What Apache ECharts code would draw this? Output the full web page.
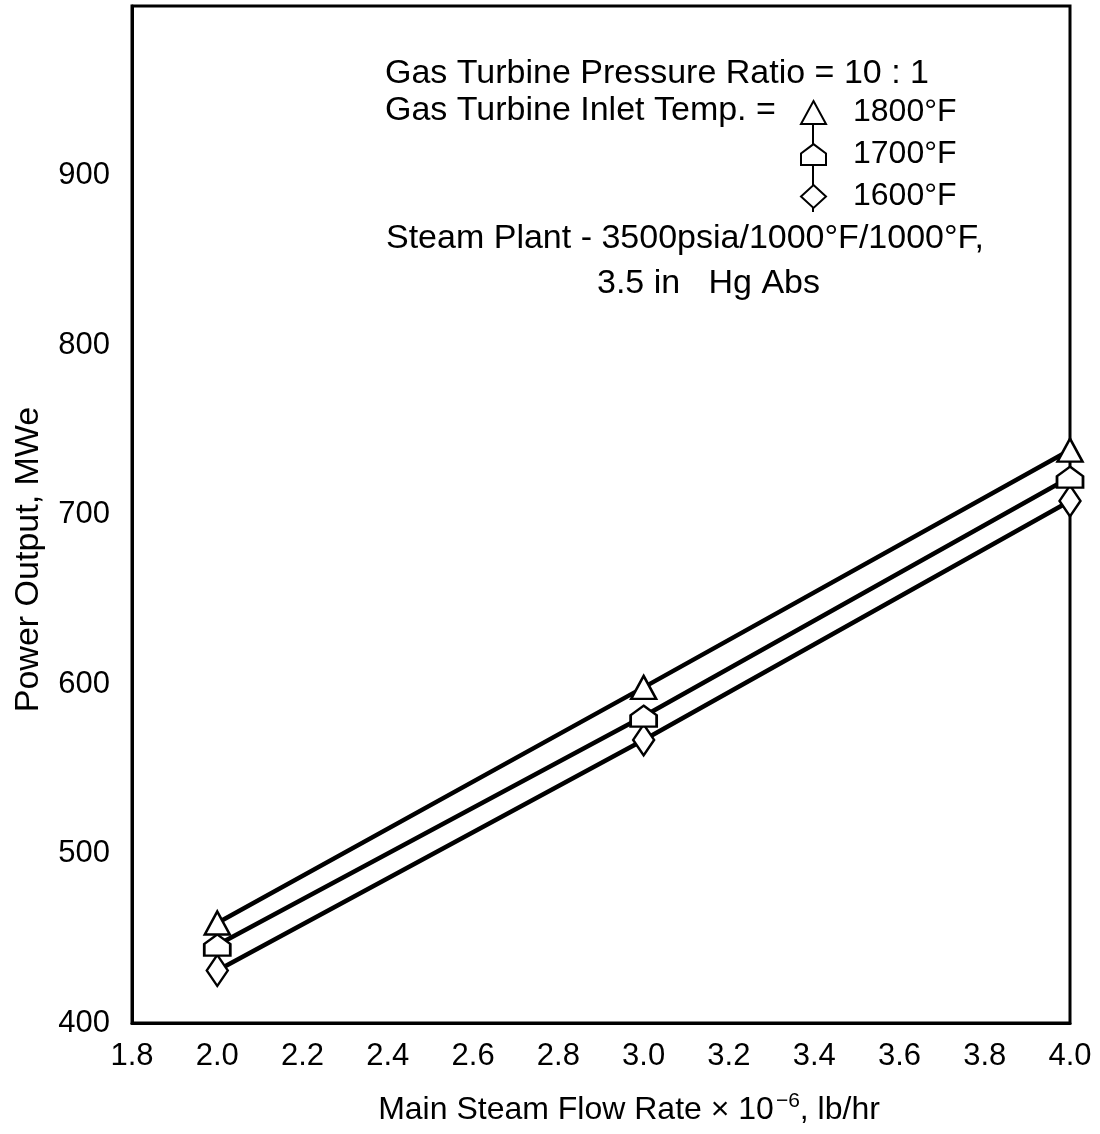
<!DOCTYPE html>
<html>
<head>
<meta charset="utf-8">
<script src="https://cdn.jsdelivr.net/npm/echarts@6/dist/echarts.min.js"></script>
<style>
  html, body { margin: 0; padding: 0; background: #fff; }
  #chart { width: 1100px; height: 1134px; }
</style>
</head>
<body>
<div id="chart"></div>
<script>
// Main steam flow rate (x 10^-6 lb/hr) and combined-cycle output (MWe)
const flowRates = [2.0, 3.0, 4.0];
const output1800 = [459, 598, 738];
const output1700 = [446, 581, 722];
const output1600 = [431, 567, 708];
const seriesNames = ['1800°F', '1700°F', '1600°F'];

// Axis ranges and tick steps
const xRange = [1.8, 4.0];
const xStep = 0.2;
const yRange = [400, 1000];
const yStep = 100;
const hiddenYLabels = [1000];

// Notes printed inside the plot
const noteLines = [
  'Gas Turbine Pressure Ratio = 10 : 1',
  'Gas Turbine Inlet Temp. =',
  'Steam Plant - 3500psia/1000°F/1000°F,',
  '3.5 in   Hg Abs'
];

const FONT = "'Liberation Sans', Arimo, Arial, sans-serif";
const HOUSE = 'path://M12,0 L24,9 L24,20 L0,20 L0,9 Z';
const symbols = ['triangle', HOUSE, 'diamond'];
const symbolSizes = [[25, 23], [26, 21], [21, 31]];
const outputs = [output1800, output1700, output1600];

const chart = echarts.init(document.getElementById('chart'), null, { renderer: 'canvas' });

const series = seriesNames.map((name, i) => ({
  name,
  type: 'line',
  data: flowRates.map((x, k) => [x, outputs[i][k]]),
  symbol: symbols[i],
  symbolSize: symbolSizes[i],
  showAllSymbol: true,
  clip: false,
  lineStyle: { color: '#000', width: 4.5 },
  itemStyle: { color: '#fff', borderColor: '#000', borderWidth: 2.5 },
  emphasis: { disabled: true },
  z: 3 - i
}));

const noteStyle = { fontSize: 34, fontFamily: FONT, fill: '#000' };

chart.setOption({
  animation: false,
  backgroundColor: '#fff',
  textStyle: { fontFamily: FONT, color: '#000' },
  grid: {
    left: 132, right: 30, top: 6, bottom: 110,
    show: true, borderColor: '#000', borderWidth: 3, backgroundColor: 'transparent'
  },
  xAxis: {
    type: 'value',
    min: xRange[0], max: xRange[1], interval: xStep,
    axisLine: { show: true, lineStyle: { color: '#000', width: 3 } },
    axisTick: { show: false },
    splitLine: { show: false },
    axisLabel: {
      color: '#000', fontSize: 31, fontFamily: FONT, margin: 18,
      formatter: v => v.toFixed(1)
    },
    name: 'Main Steam Flow Rate × 10{sup|−6}, lb/hr',
    nameLocation: 'middle',
    nameGap: 68,
    nameTextStyle: {
      color: '#000', fontSize: 32, fontFamily: FONT, lineHeight: 38,
      padding: [0, 0, 0, 56],
      rich: { sup: { fontSize: 21, lineHeight: 38, verticalAlign: 'top', padding: [0, 0, 16, 2] } }
    }
  },
  yAxis: {
    type: 'value',
    min: yRange[0], max: yRange[1], interval: yStep,
    axisLine: { show: true, lineStyle: { color: '#000', width: 3 } },
    axisTick: { show: false },
    splitLine: { show: false },
    axisLabel: {
      color: '#000', fontSize: 31, fontFamily: FONT, margin: 22,
      formatter: v => (hiddenYLabels.includes(v) ? '' : String(v))
    },
    name: 'Power Output, MWe',
    nameLocation: 'middle',
    nameGap: 86,
    nameTextStyle: { color: '#000', fontSize: 34, fontFamily: FONT, padding: [0, 90, 0, 0] }
  },
  legend: {
    orient: 'vertical',
    left: 800,
    top: 92,
    padding: 0,
    itemWidth: 25,
    itemHeight: 23,
    itemGap: 1,
    selectedMode: false,
    data: seriesNames.map((n, i) => ({ name: n, icon: symbols[i] })),
    itemStyle: { color: '#fff', borderColor: '#000', borderWidth: 2 },
    textStyle: { color: '#000', fontSize: 32, fontFamily: FONT, lineHeight: 41, padding: [0, 0, 0, 22] }
  },
  graphic: [
    {
      type: 'line', z: 0, silent: true,
      shape: { x1: 813, y1: 110, x2: 813, y2: 212 },
      style: { stroke: '#000', lineWidth: 2 }
    },
    { type: 'text', left: 385, top: 57, silent: true, style: Object.assign({ text: noteLines[0] }, noteStyle) },
    { type: 'text', left: 385, top: 94, silent: true, style: Object.assign({ text: noteLines[1] }, noteStyle) },
    { type: 'text', left: 386, top: 222, silent: true, style: Object.assign({ text: noteLines[2] }, noteStyle) },
    { type: 'text', left: 597, top: 267, silent: true, style: Object.assign({ text: noteLines[3] }, noteStyle) }
  ],
  series
});
</script>
</body>
</html>
